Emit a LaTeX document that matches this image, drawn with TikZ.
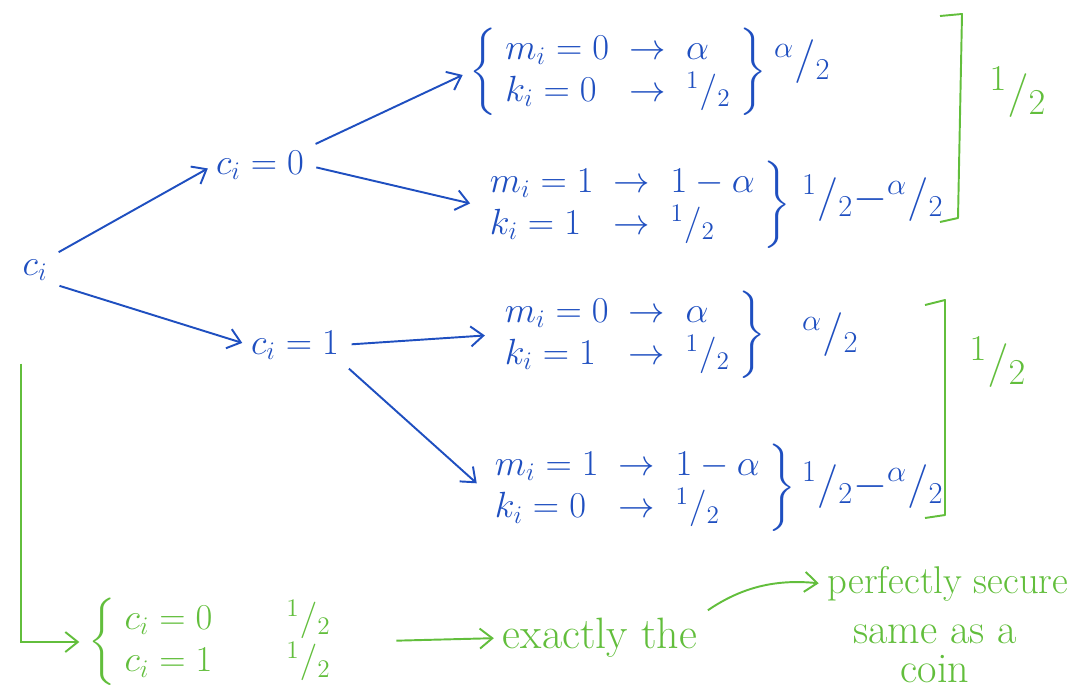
\documentclass[tikz,border=0pt]{standalone}
\usepackage{amsmath}
\usepackage{tikz}
\usetikzlibrary{arrows.meta,positioning}
\definecolor{ink}{HTML}{1F4FC0}
\definecolor{pen}{HTML}{62BE3C}
\newcommand{\hf}[2]{{}^{#1}/_{#2}}

\begin{document}
\begin{tikzpicture}[x=0.02cm, y=-0.02cm,
		lbl/.style={font=\fontsize{21}{24}\selectfont, text=ink, inner sep=1pt},
		sumlbl/.style={font=\fontsize{23}{27}\selectfont, text=ink, inner sep=1pt, anchor=west},
		note/.style={font=\fontsize{24}{22}\selectfont, text=pen, inner sep=1pt},
		link/.style={-{Straight Barb[length=2.5mm,width=4mm]}, line width=1.1pt, draw=ink, shorten <=6pt, shorten >=4pt},
		glink/.style={link, draw=pen},
		bracket/.style={line width=1.1pt, draw=pen, line join=round}
		]
		\useasboundingbox (0,0) rectangle (1081,687);
		% tree
		\node[lbl] (ci) at (35,270) {$c_i$};
		\node[lbl] (c0) at (260,165) {$c_i = 0$};
		\node[lbl] (c1) at (295,345) {$c_i = 1$};
		\node[lbl, inner sep=0pt] (g1) at (618,72) {$\left\{\begin{array}{l@{\;\;\to\;\;}l} m_i = 0 & \alpha\\ k_i = 0 & \hf12 \end{array}\right\}$};
		\node[lbl] (g2) at (635,205) {$\left.\begin{array}{l@{\;\;\to\;\;}l} m_i = 1 & 1-\alpha\\ k_i = 1 & \hf12 \end{array}\right\}$};
		\node[lbl] (g3) at (630,335) {$\left.\begin{array}{l@{\;\;\to\;\;}l} m_i = 0 & \alpha\\ k_i = 1 & \hf12 \end{array}\right\}$};
		\node[lbl] (g4) at (640,488) {$\left.\begin{array}{l@{\;\;\to\;\;}l} m_i = 1 & 1-\alpha\\ k_i = 0 & \hf12 \end{array}\right\}$};
		\node[sumlbl] (s1) at (772,62) {$\hf{\alpha}2$};
		\node[sumlbl] (s2) at (800,198) {$\hf12{-}\hf{\alpha}2$};
		\node[sumlbl] (s3) at (800,335) {$\hf{\alpha}2$};
		\node[sumlbl] (s4) at (800,485) {$\hf12{-}\hf{\alpha}2$};
		\draw[link] (ci.north east) -- (c0.west);
		\draw[link] (ci.south east) -- (c1.west);
		\draw[link] (c0.north east) -- (g1.west);
		\draw[link] (c0.east) -- (g2.west);
		\draw[link] (c1.east) -- (g3.west);
		\draw[link] (c1.south east) -- (g4.west);
		% totals
		\draw[bracket] (940,16) -- (962,14) -- (958,218) -- (940,222);
		\draw[bracket] (925,305) -- (945,300) -- (945,515) -- (925,518);
		\node[note, font=\fontsize{28}{32}\selectfont] (h1) at (1018,92) {$\hf12$};
		\node[note, font=\fontsize{28}{32}\selectfont] (h2) at (998,362) {$\hf12$};
		% conclusion
		\node[note, font=\fontsize{21}{24}\selectfont] (bot) at (215,642) {$\left\{\begin{array}{l@{\qquad}l} c_i = 0 & \hf12\\ c_i = 1 & \hf12 \end{array}\right.$};
		\node[note, font=\fontsize{25}{30}\selectfont] (same) at (600,638) {exactly the};
		\node[note, align=center] (coin) at (935,654) {same as a\\coin};
		\node[note, font=\fontsize{22}{26}\selectfont] (secure) at (948,584) {perfectly secure};
		\draw[glink] ([yshift=-40pt]ci.south west) |- (bot.west);
		\draw[glink, shorten <=30pt] (bot.east) -- (same.west);
		\draw[glink] (same.north east) to[bend left=20] (secure.west);
\end{tikzpicture}
\end{document}
